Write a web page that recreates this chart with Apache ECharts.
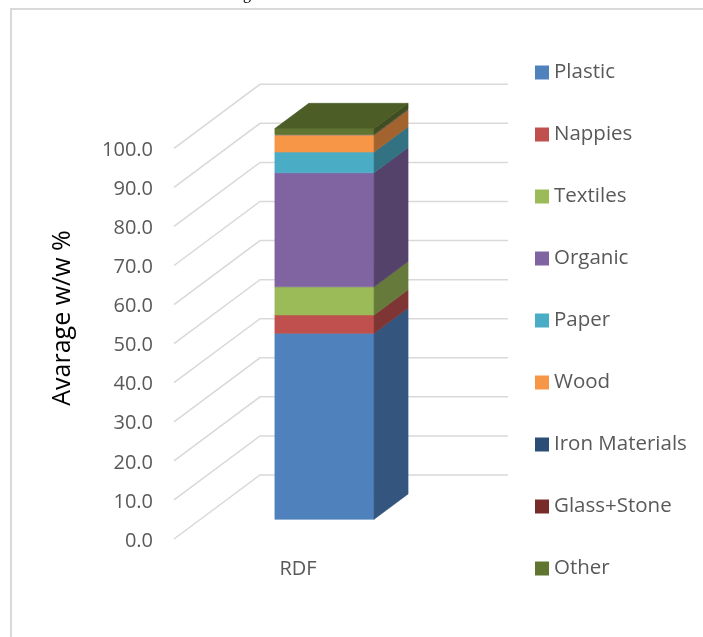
<!DOCTYPE html>
<html>
<head>
<meta charset="utf-8">
<script src="https://cdn.jsdelivr.net/npm/echarts@6/dist/echarts.min.js"></script>
<style>
html,body{margin:0;padding:0;background:#fff;}
#chart{width:703px;height:637px;}
</style>
</head>
<body>
<div id="chart"></div>
<script>
// ---- data ----
var categories = ['RDF'];
var seriesNames = ['Plastic', 'Nappies', 'Textiles', 'Organic', 'Paper', 'Wood', 'Iron Materials', 'Glass+Stone', 'Other'];
var plastic = [47.6];
var nappies = [4.7];
var textiles = [7.2];
var organic = [29.2];
var paper = [5.3];
var wood = [4.3];
var ironMaterials = [0.1];
var glassStone = [0.1];
var other = [1.5];
var yTicks = [0, 10, 20, 30, 40, 50, 60, 70, 80, 90, 100];
var yAxisTitle = 'Avarage w/w %';

// ---- style ----
var FONT = "'Open Sans', sans-serif";
var frontColors = ['#4f81bd', '#c0504d', '#9bbb59', '#8064a2', '#4bacc6', '#f79646', '#2c4d75', '#772c2a', '#5f7530'];
var DEPTH_DX = 86, DEPTH_DY = -64;   // full floor depth offset (oblique)
var T_FRONT = 0.308, T_BACK = 0.703; // bar position inside the depth
function shade(hex, f) {
  var n = parseInt(hex.slice(1), 16);
  var r = Math.round(((n >> 16) & 255) * f), g = Math.round(((n >> 8) & 255) * f), b = Math.round((n & 255) * f);
  return 'rgb(' + r + ',' + g + ',' + b + ')';
}

var valueArrays = [plastic, nappies, textiles, organic, paper, wood, ironMaterials, glassStone, other];

function makeBarRender(color, isTop) {
  return function (params, api) {
    var c = api.value(0), lo = api.value(1), hi = api.value(2);
    var pLo = api.coord([c, lo]), pHi = api.coord([c, hi]);
    var w = api.size([1, 0])[0] * 0.4;
    var xl = pLo[0] - w / 2, xr = pLo[0] + w / 2;
    var fx = DEPTH_DX * T_FRONT, fy = DEPTH_DY * T_FRONT;
    var bx = DEPTH_DX * T_BACK, by = DEPTH_DY * T_BACK;
    var h = pLo[1] - pHi[1];
    var sw = h > 2 ? 0.6 : 0;
    var sideC = shade(color, 0.66), topC = shade(color, 0.8);
    var children = [
      { type: 'polygon', shape: { points: [[xl + fx, pLo[1] + fy], [xr + fx, pLo[1] + fy], [xr + fx, pHi[1] + fy], [xl + fx, pHi[1] + fy]] },
        style: { fill: color, stroke: sw ? color : null, lineWidth: sw } },
      { type: 'polygon', shape: { points: [[xr + fx, pLo[1] + fy], [xr + bx, pLo[1] + by], [xr + bx, pHi[1] + by], [xr + fx, pHi[1] + fy]] },
        style: { fill: sideC, stroke: sw ? sideC : null, lineWidth: sw } }
    ];
    if (isTop) {
      children.push({ type: 'polygon', shape: { points: [[xl + fx, pHi[1] + fy], [xr + fx, pHi[1] + fy], [xr + bx, pHi[1] + by], [xl + bx, pHi[1] + by]] },
        style: { fill: topC, stroke: topC, lineWidth: 0.6 } });
    }
    return { type: 'group', children: children };
  };
}

var series = [];
// 3D gridlines (side wall + back wall)
series.push({
  type: 'custom',
  name: '__grid',
  z: 1,
  silent: true,
  data: yTicks.map(function (v) { return [0, v]; }),
  renderItem: function (params, api) {
    var p = api.coord([0, api.value(1)]);
    var x0 = params.coordSys.x, x1 = x0 + params.coordSys.width;
    return {
      type: 'polyline',
      shape: { points: [[x0, p[1]], [x0 + DEPTH_DX, p[1] + DEPTH_DY], [x1 + DEPTH_DX, p[1] + DEPTH_DY]] },
      style: { stroke: '#d9d9d9', lineWidth: 1.5, fill: null }
    };
  }
});

var base = categories.map(function () { return 0; });
seriesNames.forEach(function (name, i) {
  var arr = valueArrays[i];
  var data = categories.map(function (c, k) {
    var d = [k, base[k], base[k] + arr[k]];
    base[k] += arr[k];
    return d;
  });
  series.push({
    type: 'custom',
    name: name,
    z: 2 + i,
    itemStyle: { color: frontColors[i] },
    data: data,
    renderItem: makeBarRender(frontColors[i], i === seriesNames.length - 1)
  });
});

var chart = echarts.init(document.getElementById('chart'), null, { renderer: 'canvas' });
chart.setOption({
  backgroundColor: '#ffffff',
  animation: false,
  textStyle: { fontFamily: FONT },
  grid: { left: 174, right: 281, top: 148.3, bottom: 98, containLabel: false },
  xAxis: {
    type: 'category',
    data: categories,
    axisLine: { show: false },
    axisTick: { show: false },
    splitLine: { show: false },
    axisLabel: { color: '#595959', fontSize: 20, fontFamily: FONT, margin: 20 }
  },
  yAxis: {
    type: 'value',
    min: 0, max: 100, interval: 10,
    axisLine: { show: false },
    axisTick: { show: false },
    splitLine: { show: false },
    axisLabel: { color: '#595959', fontSize: 20, fontFamily: FONT, margin: 21,
      verticalAlign: 'top', lineHeight: 4,
      formatter: function (v) { return v.toFixed(1); } }
  },
  legend: {
    orient: 'vertical',
    left: 535, top: 62,
    padding: 0,
    icon: 'rect',
    itemWidth: 14, itemHeight: 14,
    itemGap: 41,
    data: seriesNames,
    selectedMode: false,
    textStyle: { color: '#595959', fontSize: 20.5, fontFamily: FONT }
  },
  graphic: [
    { type: 'rect', silent: true, shape: { x: 11, y: 9, width: 800, height: 800 },
      style: { fill: null, stroke: '#d9d9d9', lineWidth: 2 } },
    { type: 'text', silent: true, x: 243, y: 3,
      style: { text: 'g', font: "16px 'Liberation Serif'", fill: '#000', align: 'left', verticalAlign: 'bottom' } },
    { type: 'text', silent: true, x: 63, y: 318, rotation: Math.PI / 2,
      style: { text: yAxisTitle, font: "25px 'Open Sans'", fill: '#000', align: 'center', verticalAlign: 'middle' } }
  ],
  series: series
});
</script>
</body>
</html>
